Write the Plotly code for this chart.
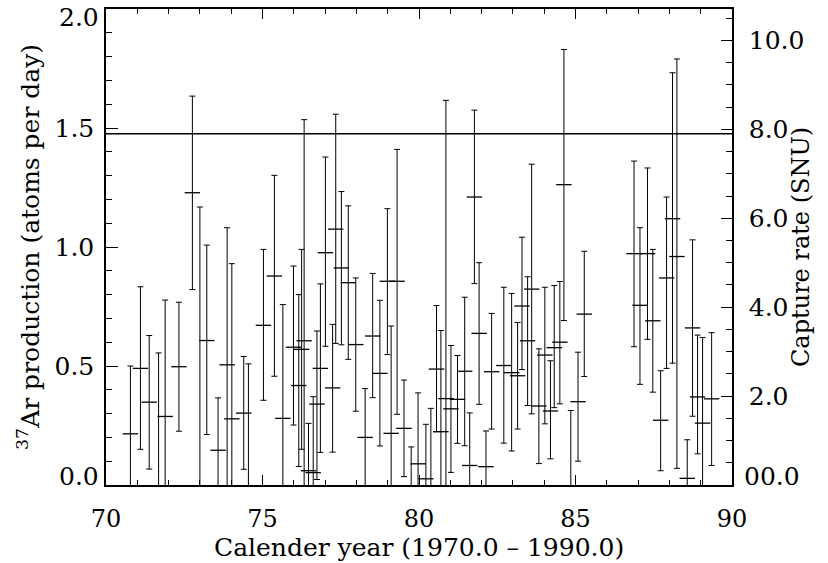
import plotly.graph_objects as go

# ---- data (year after 1900, 37Ar production in atoms/day) ----
# centre < 0 means the plotted point lies below the axis (only the upper error bar is visible)
years = [70.78, 71.10, 71.38, 71.68, 71.89, 72.33, 72.76, 73.00, 73.22, 73.58,
         73.87, 74.02, 74.40, 74.55, 75.03, 75.38, 75.65, 75.99, 76.16, 76.25,
         76.33, 76.47, 76.62, 76.74, 76.85, 77.01, 77.24, 77.34, 77.52, 77.74,
         77.98, 78.28, 78.52, 78.75, 78.99, 79.11, 79.30, 79.52, 79.75, 79.97,
         80.22, 80.38, 80.56, 80.70, 80.86, 81.02, 81.23, 81.46, 81.62, 81.77,
         81.92, 82.14, 82.32, 82.71, 82.96, 83.15, 83.29, 83.47, 83.60, 83.83,
         84.02, 84.20, 84.32, 84.50, 84.63, 84.85, 85.08, 85.28, 86.87, 87.06,
         87.30, 87.47, 87.72, 87.91, 88.10, 88.24, 88.57, 88.74, 88.90, 89.06,
         89.35]
production = [0.215, 0.49, 0.348, -0.05, 0.288, 0.497, 1.228, -0.05, 0.607, 0.146,
              0.505, 0.278, 0.302, -0.05, 0.671, 0.878, 0.28, 0.579, 0.418, 0.570,
              0.606, 0.06, 0.052, 0.34, 0.49, 0.976, 0.408, 1.075, 0.912, 0.85,
              0.59, 0.20, 0.626, 0.469, 0.856, 0.217, 0.856, 0.238, -0.05, 0.089,
              0.026, -0.05, 0.487, 0.224, 0.363, 0.32, 0.36, 0.478, 0.082, 1.21,
              0.637, 0.077, 0.476, 0.502, 0.472, 0.459, 0.752, 0.606, 0.823, 0.332,
              0.546, 0.311, 0.577, 0.60, 1.262, -0.05, 0.35, 0.718, 0.972, 0.755,
              0.972, 0.69, 0.272, 0.87, 1.119, 0.96, 0.028, 0.66, 0.37, 0.26,
              0.362]
upper = [0.50, 0.833, 0.628, 0.555, 0.777, 0.768, 1.634, 1.168, 1.008, 0.366,
         1.081, 0.93, 0.54, 0.509, 0.99, 1.301, 0.758, 0.92, 0.80, 0.99,
         1.535, 0.259, 0.371, 0.647, 0.845, 1.378, 0.675, 1.558, 1.233, 1.173,
         0.87, 0.405, 0.889, 0.776, 1.161, 0.668, 1.41, 0.441, 0.16, 0.387,
         0.255, 0.322, 0.754, 0.649, 1.616, 0.586, 0.544, 0.789, 0.303, 1.575,
         0.934, 0.227, 0.721, 0.831, 0.805, 0.683, 1.041, 0.875, 1.348, 0.572,
         0.831, 0.522, 0.838, 0.855, 1.83, 0.313, 0.558, 0.982, 1.361, 1.081,
         1.332, 0.99, 0.48, 1.21, 1.732, 1.79, 0.19, 1.03, 0.63, 0.62,
         0.64]
# lower < 0 means the error bar runs down to the axis
lower = [-0.1, 0.15, 0.067, -0.1, -0.1, 0.226, 0.821, -0.1, 0.212, -0.1,
         -0.1, -0.1, 0.066, -0.1, 0.356, 0.457, -0.1, 0.252, 0.078, 0.15,
         -0.1, -0.1, -0.1, 0.023, 0.137, 0.583, 0.138, 0.595, 0.589, 0.528,
         0.31, -0.1, 0.367, 0.164, 0.548, -0.1, 0.297, 0.035, -0.1, -0.1,
         -0.1, -0.1, 0.224, -0.1, -0.1, 0.053, 0.175, 0.165, -0.1, 0.846,
         0.339, -0.1, 0.235, 0.176, 0.143, 0.235, 0.485, 0.334, 0.299, 0.09,
         0.257, 0.11, 0.325, 0.341, 0.691, -0.1, 0.1, 0.456, 0.581, 0.423,
         0.612, 0.39, 0.06, 0.49, 0.512, 0.07, -0.1, 0.289, 0.131, -0.1,
         0.082]
reference_level = 1.476          # atoms per day (horizontal line)
left_ticks = [0.5, 1.0, 1.5]
left_labels = ["0.5", "1.0", "1.5"]
left_end_ticks = [0.0, 2.0]      # end labels drawn nudged inward, as in the reference
left_end_labels = ["0.0", "2.0"]
snu_ticks = [2, 4, 6, 8, 10]
snu_labels = ["2.0", "4.0", "6.0", "8.0", "10.0"]
snu_zero_label = "00.0"
snu_max = 10.706                 # right-axis value matching 2.0 atoms/day

err_plus = [u - c for u, c in zip(upper, production)]
err_minus = [c - l for c, l in zip(production, lower)]

FONT = "DejaVu Serif"
TICK_SIZE = 25

fig = go.Figure()
fig.add_trace(go.Scatter(
    x=years, y=production, mode="markers",
    marker=dict(symbol="line-ew", size=11, color="black",
                line=dict(color="black", width=1.3)),
    error_y=dict(type="data", symmetric=False, array=err_plus,
                 arrayminus=err_minus, color="black", thickness=1, width=3),
    cliponaxis=True, showlegend=False,
))
fig.add_trace(go.Scatter(x=[None], y=[None], yaxis="y2", showlegend=False))

fig.add_shape(type="line", xref="paper", x0=0, x1=1, yref="y",
              y0=reference_level, y1=reference_level,
              line=dict(color="black", width=1.5))

# end labels of the left axis (nudged inward like the reference)
for val, txt, shift in zip(left_end_ticks, left_end_labels, [9, -8]):
    fig.add_annotation(xref="paper", x=0, xanchor="right", xshift=-5,
                       yref="y", y=val, yanchor="middle", yshift=shift,
                       text=txt, showarrow=False,
                       font=dict(family=FONT, size=TICK_SIZE, color="black"))
fig.add_annotation(xref="paper", x=1, xanchor="left", xshift=10,
                   yref="y2", y=0, yanchor="middle", yshift=9,
                   text=snu_zero_label, showarrow=False,
                   font=dict(family=FONT, size=TICK_SIZE, color="black"))
# right-axis title, placed close to the labels as in the reference
fig.add_annotation(xref="paper", x=1, xanchor="center", xshift=69,
                   yref="paper", y=0.5, yanchor="middle",
                   text="Capture rate (SNU)", textangle=-90, showarrow=False,
                   font=dict(family=FONT, size=24, color="black"))
# x-axis title
fig.add_annotation(xref="paper", x=0.5, xanchor="center",
                   yref="paper", y=0, yanchor="middle", yshift=-62,
                   text="Calender year (1970.0 \u2013 1990.0)", showarrow=False,
                   font=dict(family=FONT, size=25, color="black"))

fig.update_layout(
    width=828, height=563,
    margin=dict(l=106, r=96, t=9, b=78, autoexpand=False),
    plot_bgcolor="white", paper_bgcolor="white",
    font=dict(family=FONT, color="black"),
    xaxis=dict(
        range=[70, 90], tick0=70, dtick=5, ticks="inside", ticklen=10,
        tickwidth=1.3, tickcolor="black", showline=True, linewidth=1.5,
        linecolor="black", mirror="ticks", showgrid=False, zeroline=False,
        tickfont=dict(family=FONT, size=24), ticklabelstandoff=11,
        ticklabeloverflow="allow", automargin=False,
        minor=dict(tick0=70, dtick=1, ticks="inside", ticklen=5,
                   tickcolor="black", tickwidth=1, showgrid=False),
    ),
    yaxis=dict(
        range=[0, 2], tickmode="array", tickvals=left_ticks,
        ticktext=left_labels, ticks="inside", automargin=False,
        ticklen=12, tickwidth=1.3, tickcolor="black", showline=True,
        linewidth=1.5, linecolor="black", mirror=False, showgrid=False,
        zeroline=False, tickfont=dict(family=FONT, size=TICK_SIZE),
        ticklabelstandoff=5,
        minor=dict(tickmode="linear", tick0=0, dtick=0.1, ticks="inside",
                   ticklen=6, tickcolor="black", tickwidth=1, showgrid=False),
        title=dict(text="<sup>37</sup>Ar production (atoms per day)",
                   font=dict(family=FONT, size=25), standoff=8),
    ),
    yaxis2=dict(
        overlaying="y", side="right", range=[0, snu_max], automargin=False,
        tickmode="array", tickvals=snu_ticks, ticktext=snu_labels,
        ticks="inside", ticklen=11, tickwidth=1.3, tickcolor="black",
        showline=True, linewidth=1.5, linecolor="black", showgrid=False,
        zeroline=False, tickfont=dict(family=FONT, size=TICK_SIZE),
        ticklabelstandoff=10,
        minor=dict(tickmode="linear", tick0=0, dtick=0.5, ticks="inside",
                   ticklen=6, tickcolor="black", tickwidth=1, showgrid=False),
    ),
)

fig.write_html("out.html")
